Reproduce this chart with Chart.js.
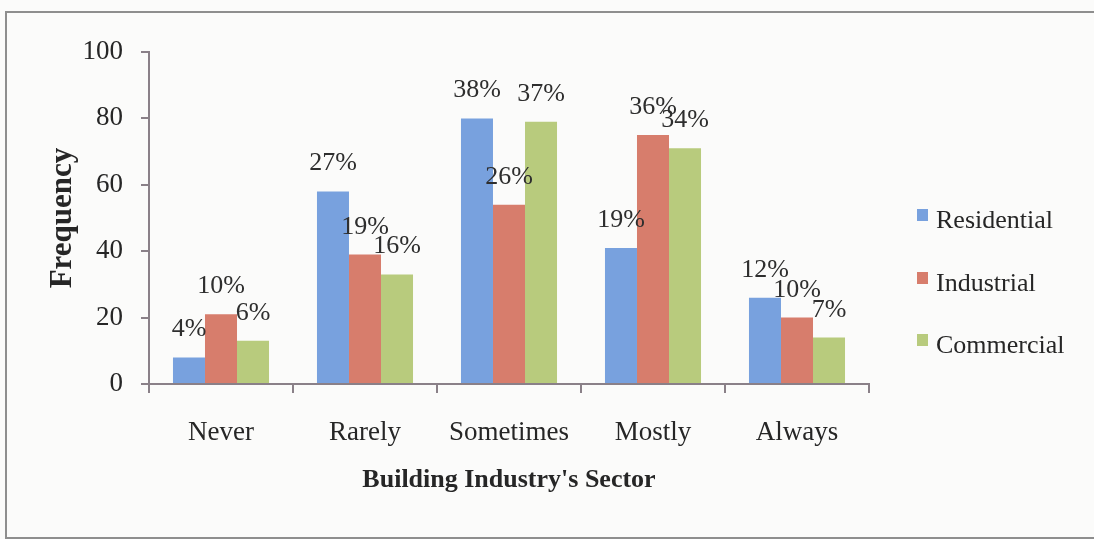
<!DOCTYPE html>
<html>
<head>
<meta charset="utf-8">
<script src="https://cdn.jsdelivr.net/npm/chart.js@4/dist/chart.umd.min.js"></script>
<style>
  html, body { margin: 0; padding: 0; background: #fbfbfa; }
  #wrap { position: relative; width: 1094px; height: 539px; overflow: hidden; }
  #frame { position: absolute; left: 5px; top: 11px; width: 1200px; height: 528px;
           border: 2px solid #8e8e8e; border-right: none; box-sizing: border-box; }
  canvas { position: absolute; left: 0; top: 0; }
</style>
</head>
<body>
<div id="wrap">
  <div id="frame"></div>
  <canvas id="chart" width="1094" height="539"></canvas>
</div>
<script>
// Survey responses by building industry sector
const categories = ['Never', 'Rarely', 'Sometimes', 'Mostly', 'Always'];
const seriesNames = ['Residential', 'Industrial', 'Commercial'];

// Frequencies (bar heights)
const residential = [8, 58, 80, 41, 26];
const industrial  = [21, 39, 54, 75, 20];
const commercial  = [13, 33, 79, 71, 14];

// Share of each sector's responses (bar labels)
const residentialPct = ['4%', '27%', '38%', '19%', '12%'];
const industrialPct  = ['10%', '19%', '26%', '36%', '10%'];
const commercialPct  = ['6%', '16%', '37%', '34%', '7%'];

const yTicks = [0, 20, 40, 60, 80, 100];

const colors = ['#78a1de', '#d77d6c', '#b8cb7d'];
const serif = "'Liberation Serif', 'Times New Roman', serif";
const axisColor = '#8a8088';
const textColor = '#262626';

const seriesValues = [residential, industrial, commercial];
const seriesLabels = [residentialPct, industrialPct, commercialPct];

const valueLabels = {
  id: 'valueLabels',
  afterDatasetsDraw(chart) {
    const ctx = chart.ctx;
    ctx.save();
    ctx.font = '26px ' + serif;
    ctx.fillStyle = '#2e2e2e';
    ctx.textAlign = 'center';
    ctx.textBaseline = 'alphabetic';
    chart.data.datasets.forEach((ds, i) => {
      const meta = chart.getDatasetMeta(i);
      meta.data.forEach((bar, j) => {
        ctx.fillText(seriesLabels[i][j], bar.x, bar.y - 21);
      });
    });
    ctx.restore();
  }
};

const sideLegend = {
  id: 'sideLegend',
  afterDraw(chart) {
    const ctx = chart.ctx;
    const x0 = chart.chartArea.right + 48;
    const baselines = [228, 291, 353];
    ctx.save();
    ctx.font = '26px ' + serif;
    ctx.textBaseline = 'alphabetic';
    ctx.textAlign = 'left';
    chart.data.datasets.forEach((ds, i) => {
      const b = baselines[i];
      ctx.fillStyle = ds.backgroundColor;
      ctx.fillRect(x0, b - 19, 11, 12);
      ctx.fillStyle = textColor;
      ctx.fillText(ds.label, x0 + 19, b);
    });
    ctx.restore();
  }
};

new Chart(document.getElementById('chart'), {
  type: 'bar',
  data: {
    labels: categories,
    datasets: seriesNames.map((name, i) => ({
      label: name,
      data: seriesValues[i],
      backgroundColor: colors[i],
      borderWidth: 0,
      categoryPercentage: 0.667,
      barPercentage: 1.0
    }))
  },
  options: {
    responsive: false,
    animation: false,
    layout: { padding: { top: 52, right: 225, left: 34, bottom: 0 } },
    plugins: {
      legend: { display: false },
      tooltip: { enabled: false }
    },
    scales: {
      x: {
        grid: { drawOnChartArea: false, offset: true, tickLength: 9, color: axisColor, lineWidth: 2 },
        border: { color: axisColor, width: 2 },
        ticks: { color: textColor, font: { family: serif, size: 27 }, padding: 24 },
        title: { display: true, text: "Building Industry's Sector", color: textColor,
                 font: { family: serif, size: 26, weight: 'bold' }, padding: { top: 0, bottom: 43 } },
        afterFit(scale) { scale.height = 155; }
      },
      y: {
        min: 0, max: 100,
        afterBuildTicks(scale) { scale.ticks = yTicks.map(v => ({ value: v })); },
        grid: { drawOnChartArea: false, tickLength: 8, color: axisColor, lineWidth: 2 },
        border: { color: axisColor, width: 2 },
        ticks: { color: textColor, font: { family: serif, size: 27 }, padding: 18 },
        title: { display: true, text: 'Frequency', color: textColor,
                 font: { family: serif, size: 31, weight: 'bold' }, padding: { top: 10, bottom: 0 } },
        afterFit(scale) { scale.width = 115; }
      }
    }
  },
  plugins: [valueLabels, sideLegend]
});
</script>
</body>
</html>
